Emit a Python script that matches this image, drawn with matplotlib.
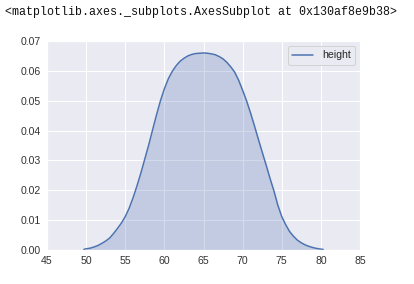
import numpy as np
import matplotlib
matplotlib.use('Agg')
import matplotlib.pyplot as plt
import seaborn as sns

# density of 'height'
height_x = [49.7, 50, 50.5, 51, 51.5, 52, 52.5, 53, 53.5, 54, 54.5, 55, 55.5, 56,
            56.5, 57, 57.5, 58, 58.5, 59, 59.5, 60, 60.5, 61, 61.5, 62, 62.5, 63,
            63.5, 64, 64.5, 65, 65.5, 66, 66.5, 67, 67.5, 68, 68.5, 69, 69.5, 70,
            70.5, 71, 71.5, 72, 72.5, 73, 73.5, 74, 74.5, 75, 75.5, 76, 76.5, 77,
            77.5, 78, 78.5, 79, 79.5, 80, 80.3]
height_density = [0.0002, 0.0004, 0.0006, 0.0010, 0.0015, 0.0022, 0.0030, 0.0040,
                  0.0055, 0.0072, 0.0090, 0.0112, 0.0140, 0.0175, 0.0215, 0.0258,
                  0.0305, 0.0352, 0.0403, 0.0453, 0.0500, 0.0540, 0.0573, 0.0598,
                  0.0617, 0.0632, 0.0642, 0.0650, 0.0655, 0.0658, 0.0659, 0.0660,
                  0.0659, 0.0657, 0.0654, 0.0648, 0.0640, 0.0628, 0.0613, 0.0595,
                  0.0568, 0.0535, 0.0500, 0.0460, 0.0417, 0.0372, 0.0328, 0.0285,
                  0.0240, 0.0198, 0.0150, 0.0112, 0.0085, 0.0062, 0.0046, 0.0033,
                  0.0024, 0.0017, 0.0012, 0.0008, 0.0005, 0.0003, 0.0002]
x_ticks = [45, 50, 55, 60, 65, 70, 75, 80, 85]
y_ticks = [0.00, 0.01, 0.02, 0.03, 0.04, 0.05, 0.06, 0.07]
repr_text = '<matplotlib.axes._subplots.AxesSubplot at 0x130af8e9b38>'

sns.set_theme(style='darkgrid')
plt.rcParams['font.family'] = ['Liberation Sans', 'DejaVu Sans']

fig = plt.figure(figsize=(414 / 72, 284 / 72), dpi=72)
ax = fig.add_axes([47 / 414, 34 / 284, 313 / 414, 209 / 284])

color = '#4C72B0'
ax.plot(height_x, height_density, color=color, lw=1.5, label='height')
ax.fill_between(height_x, height_density, color=color, alpha=0.25, lw=0)

ax.set_xlim(45, 85)
ax.set_ylim(0, 0.07)
ax.set_xticks(x_ticks)
ax.set_yticks(y_ticks)
ax.set_yticklabels(['{:.2f}'.format(v) for v in y_ticks])
ax.tick_params(labelsize=10.5, colors='#333333', length=0, pad=6)
ax.legend(loc='upper right', fontsize=10.5)

# notebook output line above the chart
fig.text(5 / 414, 1 - 12 / 284, repr_text, family='Liberation Mono',
         fontsize=11.6, va='center', ha='left', color='#111111')

fig.savefig('out.png', dpi=72)
